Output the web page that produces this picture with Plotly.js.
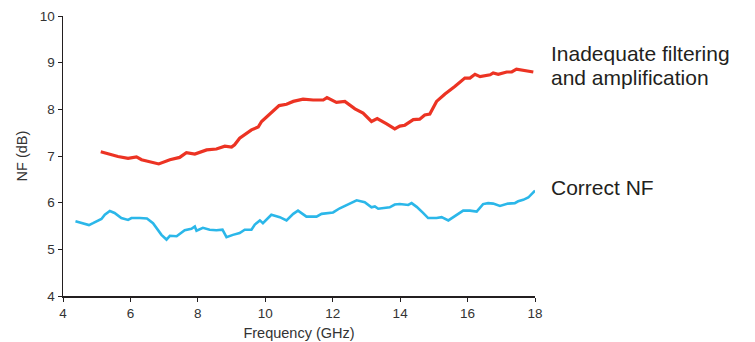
<!DOCTYPE html>
<html><head><meta charset="utf-8">
<script src="https://cdn.plot.ly/plotly-3.0.1.min.js"></script>
<style>html,body{margin:0;padding:0;background:#fff}#chart{width:755px;height:342px}</style>
</head><body><div id="chart"></div>
<script>
const redFreq = [5.12,5.63,5.93,6.18,6.33,6.84,7.17,7.46,7.66,7.91,8.26,8.55,8.80,9.00,9.09,9.24,9.59,9.79,9.89,10.13,10.41,10.63,10.83,11.12,11.42,11.72,11.83,12.11,12.36,12.66,12.90,13.15,13.32,13.60,13.84,13.99,14.14,14.39,14.58,14.73,14.88,15.08,15.33,15.62,15.92,16.07,16.22,16.37,16.67,16.76,16.91,17.16,17.31,17.45,17.65,17.85,17.95];
const redNF = [7.09,6.99,6.95,6.98,6.92,6.83,6.92,6.97,7.07,7.04,7.13,7.15,7.21,7.19,7.24,7.38,7.56,7.62,7.74,7.90,8.08,8.11,8.17,8.22,8.20,8.20,8.25,8.15,8.17,8.01,7.92,7.74,7.80,7.69,7.58,7.64,7.66,7.78,7.79,7.88,7.90,8.17,8.33,8.49,8.67,8.67,8.75,8.70,8.74,8.78,8.75,8.80,8.80,8.86,8.83,8.80,8.80];
const blueFreq = [4.37,4.59,4.77,4.89,5.14,5.24,5.39,5.53,5.73,5.93,6.03,6.28,6.49,6.67,6.82,6.92,7.07,7.17,7.37,7.61,7.81,7.91,7.96,8.15,8.35,8.55,8.73,8.85,9.04,9.24,9.39,9.59,9.69,9.84,9.93,10.18,10.43,10.63,10.83,10.97,11.22,11.52,11.67,12.01,12.21,12.51,12.71,12.95,13.15,13.25,13.35,13.69,13.84,13.99,14.24,14.34,14.49,14.68,14.83,15.08,15.23,15.43,15.67,15.87,16.07,16.27,16.46,16.61,16.76,16.96,17.20,17.40,17.50,17.65,17.80,18.00];
const blueNF = [5.60,5.55,5.52,5.56,5.65,5.74,5.82,5.78,5.67,5.63,5.67,5.67,5.66,5.56,5.42,5.31,5.21,5.29,5.28,5.41,5.44,5.49,5.40,5.46,5.42,5.41,5.42,5.26,5.31,5.35,5.42,5.42,5.53,5.62,5.56,5.74,5.69,5.62,5.76,5.83,5.70,5.70,5.76,5.79,5.88,5.98,6.05,6.01,5.90,5.92,5.87,5.90,5.96,5.97,5.95,5.99,5.91,5.78,5.67,5.67,5.69,5.62,5.74,5.83,5.83,5.81,5.97,5.99,5.98,5.93,5.98,5.99,6.03,6.06,6.11,6.26];
const xTicks = [4,6,8,10,12,14,16,18];
const yTicks = [4,5,6,7,8,9,10];
const redLabelLines = ["Inadequate filtering", "and amplification"];
const blueLabel = "Correct NF";

const font = "Liberation Sans, Arial, sans-serif";
const traces = [
  {x: redFreq, y: redNF, mode: 'lines', line: {color: '#ec3323', width: 3.2}, hoverinfo: 'skip'},
  {x: blueFreq, y: blueNF, mode: 'lines', line: {color: '#2bb7e9', width: 2.6}, hoverinfo: 'skip'}
];
const axisCommon = {showgrid: false, zeroline: false, showline: true, linecolor: '#231f20', linewidth: 1.5,
  ticks: 'outside', ticklen: 4, tickcolor: '#231f20', tickwidth: 1, tickfont: {family: font, size: 13.5, color: '#333'}};
const labelFont = {family: font, size: 21, color: '#231f20'};
const layout = {
  width: 755, height: 342,
  margin: {l: 63, r: 220, t: 16, b: 46},
  paper_bgcolor: '#fff', plot_bgcolor: '#fff',
  showlegend: false,
  xaxis: Object.assign({}, axisCommon, {range: [4, 18], tickvals: xTicks, ticktext: xTicks.map(String),
    title: {text: 'Frequency (GHz)', font: {family: font, size: 14.5, color: '#333'}, standoff: 8}}),
  yaxis: Object.assign({}, axisCommon, {range: [4, 10], tickvals: yTicks, ticktext: yTicks.map(String),
    title: {text: 'NF (dB)', font: {family: font, size: 14.5, color: '#333'}, standoff: 8}}),
  annotations: [
    {xref: 'paper', yref: 'y', x: 1.03, y: 9.2, text: redLabelLines[0], showarrow: false, xanchor: 'left', yanchor: 'middle', align: 'left', font: labelFont},
    {xref: 'paper', yref: 'y', x: 1.03, y: 8.68, text: redLabelLines[1], showarrow: false, xanchor: 'left', yanchor: 'middle', align: 'left', font: labelFont},
    {xref: 'paper', yref: 'y', x: 1.03, y: 6.33, text: blueLabel, showarrow: false, xanchor: 'left', yanchor: 'middle', align: 'left', font: labelFont}
  ]
};
Plotly.newPlot('chart', traces, layout, {staticPlot: true, displayModeBar: false});
</script></body></html>
